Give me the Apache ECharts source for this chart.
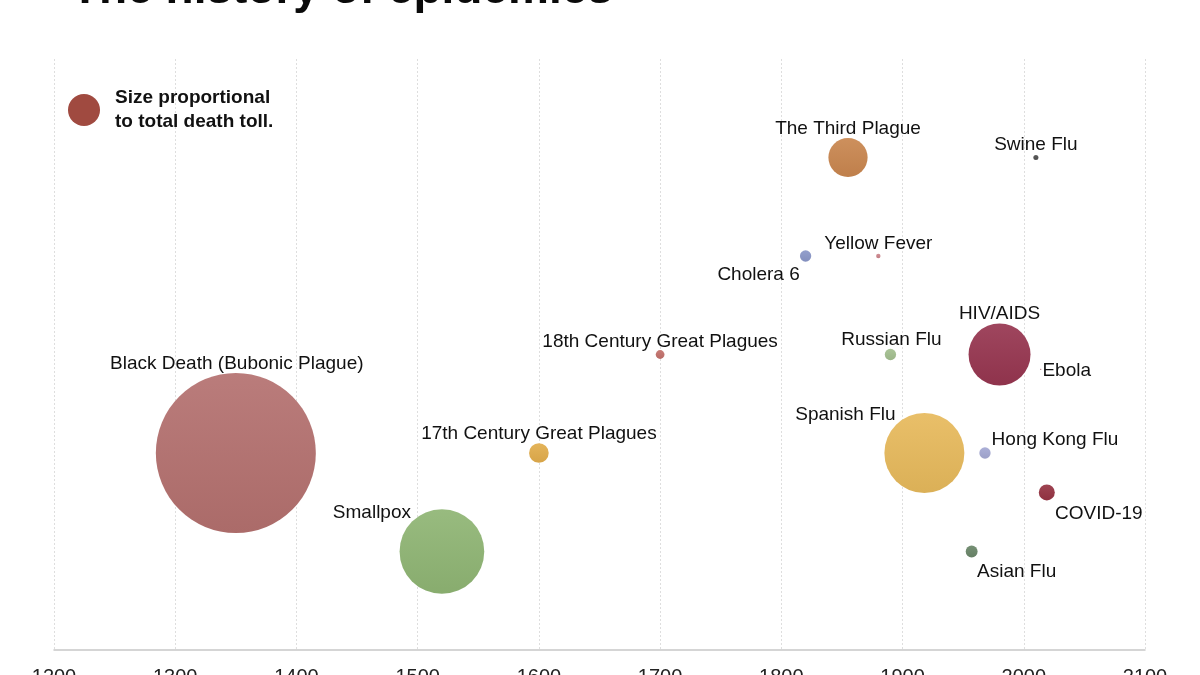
<!DOCTYPE html>
<html>
<head>
<meta charset="utf-8">
<title>The history of epidemics</title>
<script src="https://cdn.jsdelivr.net/npm/echarts@6/dist/echarts.min.js"></script>
<style>
    html, body { margin: 0; padding: 0; background: #fff; overflow: hidden; }
    #chart { width: 1200px; height: 675px; }
</style>
</head>
<body>
<div id="chart"></div>
<script>
// epidemics, year of outbreak, row on the chart, death toll (millions)
var names = ['Black Death (Bubonic Plague)', 'Smallpox', '17th Century Great Plagues', '18th Century Great Plagues',
    'Cholera 6', 'Yellow Fever', 'The Third Plague', 'Swine Flu', 'Russian Flu', 'HIV/AIDS', 'Ebola',
    'Spanish Flu', 'Hong Kong Flu', 'COVID-19', 'Asian Flu'];
var years  = [1350, 1520, 1600, 1700, 1820, 1880, 1855, 2010, 1890, 1980, 2014, 1918, 1968, 2019, 1957];
var rows   = [2, 1, 2, 3, 4, 4, 5, 5, 3, 3, 2.85, 2, 2, 1.6, 1];
var deaths = [200, 56, 3, 0.6, 1, 0.15, 12, 0.2, 1, 30, 0.011, 50, 1, 2, 1.1];
var xTicks = [1200, 1300, 1400, 1500, 1600, 1700, 1800, 1900, 2000, 2100];

var colors = ['#b4716f', '#8fb574', '#e2ad4c', '#c2706a', '#8a97c8', '#cc848b', '#c9864f', '#4f4f4f',
    '#a3bf8f', '#973650', '#973650', '#e7b95c', '#a4a8d3', '#963443', '#6a8669'];
// label offset from bubble centre [dx, dy]
var labelOffsets = [[1, -89], [-70, -39], [0, -19], [0, -13], [-47, 19], [0, -12], [0, -29], [0, -13],
    [1, -15], [0, -41], [26, 1], [-79, -38], [70, -13], [52, 21], [45, 20]];

var legendName = 'Size proportional\nto total death toll.';

function shade(hex, amt) {
    var n = parseInt(hex.slice(1), 16);
    var r = n >> 16, g = (n >> 8) & 255, b = n & 255;
    var t = amt < 0 ? 0 : 255, p = Math.abs(amt);
    r = Math.round(r + (t - r) * p);
    g = Math.round(g + (t - g) * p);
    b = Math.round(b + (t - b) * p);
    return 'rgb(' + r + ',' + g + ',' + b + ')';
}

var seriesData = [];
for (var i = 0; i < names.length; i++) {
    seriesData.push({
        name: names[i],
        value: [years[i], rows[i], deaths[i]],
        itemStyle: {
            color: new echarts.graphic.LinearGradient(0, 0, 0, 1, [
                {offset: 0, color: shade(colors[i], 0.08)},
                {offset: 1, color: shade(colors[i], -0.05)}
            ])
        },
        label: { offset: labelOffsets[i] }
    });
}

var myChart = echarts.init(document.getElementById('chart'));
var option = {
    animation: false,
    backgroundColor: '#fff',
    title: {
        text: 'The history of epidemics',
        left: 71,
        top: -33,
        padding: 0,
        textStyle: {
            fontFamily: 'Liberation Sans',
            fontSize: 46,
            fontWeight: 'bold',
            color: '#0a0a0a'
        }
    },
    legend: {
        left: 68,
        top: 86,
        padding: 0,
        itemWidth: 32,
        itemHeight: 32,
        selectedMode: false,
        data: [{name: legendName, icon: 'circle', itemStyle: {color: '#a04a40', opacity: 1}}],
        textStyle: {
            fontFamily: 'Liberation Sans',
            fontSize: 19,
            fontWeight: 'bold',
            lineHeight: 24,
            color: '#111',
            padding: [0, 0, 0, 10]
        }
    },
    grid: {
        left: 54,
        right: 55,
        top: 59,
        bottom: 25,
        containLabel: false,
        outerBoundsMode: 'none'
    },
    xAxis: {
        type: 'value',
        min: xTicks[0],
        max: xTicks[xTicks.length - 1],
        interval: 100,
        axisLine: { lineStyle: { color: '#c8c8c8', width: 1.5 } },
        axisTick: { show: false },
        axisLabel: {
            margin: 17,
            fontFamily: 'Liberation Sans',
            fontSize: 20,
            color: '#222',
            formatter: function (v) { return String(v); }
        },
        splitLine: {
            show: true,
            lineStyle: { color: '#dedede', type: [2, 2], width: 1 }
        }
    },
    yAxis: {
        type: 'value',
        min: 0,
        max: 6,
        show: false,
        splitLine: { show: false }
    },
    series: [{
        name: legendName,
        type: 'scatter',
        itemStyle: { color: '#a04a40', opacity: 1 },
        symbolSize: function (val) {
            return 160 * Math.sqrt(val[2] / 200);
        },
        label: {
            show: true,
            position: 'inside',
            formatter: '{b}',
            fontFamily: 'Liberation Sans',
            fontSize: 19,
            color: '#111',
            opacity: 1
        },
        emphasis: { disabled: true },
        data: seriesData
    }]
};

myChart.setOption(option);
</script>
</body>
</html>
